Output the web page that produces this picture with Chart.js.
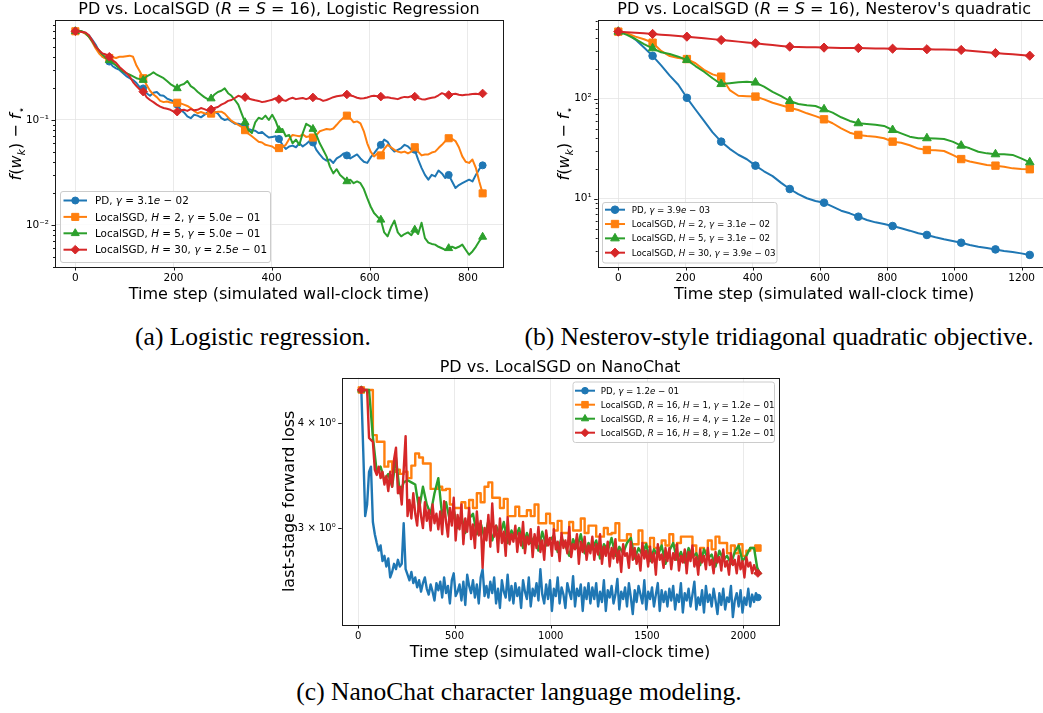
<!DOCTYPE html>
<html lang="en"><head><meta charset="utf-8"><title>PD vs. LocalSGD</title>
<script src="https://cdn.jsdelivr.net/npm/chart.js@4.4.1/dist/chart.umd.min.js"></script>
<style>
html,body{margin:0;padding:0;background:#fff;overflow:hidden;width:1043px;height:713px;position:relative}
canvas{position:absolute;display:block}
.cap{position:absolute;font-family:"Liberation Serif","Times New Roman",serif;font-size:25.5px;line-height:30px;color:#000;white-space:nowrap;transform:translateX(-50%)}
</style></head><body>
<canvas id="chartA" width="520" height="312" style="left:0px;top:0px;width:520px;height:312px"></canvas>
<canvas id="chartB" width="545" height="312" style="left:520px;top:0px;width:545px;height:312px"></canvas>
<canvas id="chartC" width="520" height="312" style="left:280px;top:355px;width:520px;height:312px"></canvas>
<div class="cap" style="left:253px;top:322px">(a) Logistic regression.</div>
<div class="cap" style="left:779px;top:322px">(b) Nesterov-style tridiagonal quadratic objective.</div>
<div class="cap" style="left:519px;top:677px">(c) NanoChat character language modeling.</div>
<script>
// ================= DATA =================
// ---- (a) Logistic regression: time grid 0..830, 121 samples
const aTimeEnd = 830;
const aPD  = [0.70,0.705,0.69,0.67,0.64,0.58,0.52,0.45,0.40,0.39,0.36,0.325,0.31,0.30,0.28,0.262,0.25,0.24,0.225,0.205,0.20,0.18,0.17,0.182,0.185,0.172,0.17,0.16,0.155,0.15,0.14,0.125,0.118,0.108,0.104,0.112,0.11,0.106,0.112,0.118,0.122,0.12,0.115,0.104,0.10,0.102,0.097,0.092,0.092,0.09,0.086,0.082,0.08,0.079,0.075,0.077,0.072,0.068,0.069,0.07,0.066,0.058,0.053,0.056,0.057,0.055,0.06,0.056,0.059,0.063,0.061,0.052,0.047,0.043,0.041,0.042,0.039,0.043,0.045,0.048,0.046,0.043,0.045,0.047,0.043,0.04,0.039,0.044,0.048,0.053,0.058,0.065,0.062,0.054,0.05,0.052,0.054,0.058,0.056,0.052,0.052,0.042,0.035,0.03,0.027,0.03,0.029,0.033,0.031,0.028,0.03,0.026,0.0225,0.024,0.025,0.026,0.027,0.026,0.03,0.034,0.037];
const aH2  = [0.70,0.70,0.69,0.66,0.62,0.55,0.48,0.43,0.40,0.385,0.39,0.395,0.39,0.40,0.40,0.405,0.41,0.40,0.33,0.29,0.25,0.215,0.19,0.175,0.165,0.152,0.148,0.15,0.147,0.145,0.146,0.144,0.14,0.136,0.13,0.122,0.116,0.119,0.116,0.113,0.115,0.118,0.12,0.12,0.115,0.106,0.098,0.094,0.09,0.086,0.08,0.074,0.07,0.066,0.062,0.061,0.058,0.057,0.056,0.053,0.054,0.055,0.058,0.066,0.072,0.071,0.07,0.073,0.069,0.07,0.068,0.072,0.078,0.08,0.082,0.081,0.083,0.09,0.098,0.105,0.11,0.104,0.095,0.097,0.093,0.078,0.06,0.05,0.045,0.048,0.046,0.053,0.058,0.055,0.052,0.05,0.049,0.05,0.048,0.05,0.055,0.05,0.046,0.047,0.047,0.049,0.05,0.054,0.058,0.063,0.067,0.066,0.063,0.055,0.045,0.04,0.039,0.042,0.035,0.026,0.020];
const aH5  = [0.70,0.71,0.70,0.67,0.62,0.56,0.50,0.46,0.42,0.39,0.37,0.35,0.33,0.31,0.29,0.28,0.27,0.26,0.25,0.245,0.24,0.26,0.27,0.285,0.27,0.26,0.25,0.235,0.22,0.21,0.20,0.215,0.22,0.235,0.21,0.2,0.186,0.175,0.165,0.158,0.16,0.175,0.185,0.19,0.20,0.18,0.17,0.155,0.14,0.115,0.095,0.08,0.075,0.095,0.105,0.102,0.11,0.1,0.112,0.098,0.08,0.082,0.07,0.072,0.06,0.065,0.058,0.075,0.092,0.088,0.082,0.072,0.06,0.052,0.045,0.036,0.031,0.034,0.03,0.028,0.026,0.027,0.025,0.026,0.025,0.022,0.018,0.015,0.013,0.012,0.0112,0.0085,0.0078,0.0095,0.011,0.0085,0.0078,0.0082,0.0085,0.008,0.009,0.0082,0.0105,0.0075,0.0068,0.0066,0.0065,0.0062,0.006,0.0058,0.006,0.0062,0.006,0.0062,0.0065,0.0058,0.0052,0.0056,0.0062,0.007,0.0077];
const aH30 = [0.70,0.70,0.69,0.68,0.64,0.57,0.50,0.46,0.43,0.42,0.40,0.37,0.35,0.32,0.30,0.28,0.26,0.23,0.21,0.195,0.186,0.165,0.155,0.148,0.14,0.134,0.13,0.128,0.125,0.12,0.12,0.124,0.125,0.122,0.127,0.124,0.125,0.13,0.127,0.123,0.126,0.13,0.133,0.14,0.145,0.152,0.155,0.162,0.17,0.166,0.165,0.16,0.157,0.154,0.152,0.148,0.15,0.153,0.156,0.161,0.158,0.155,0.152,0.159,0.163,0.158,0.16,0.162,0.158,0.162,0.164,0.16,0.158,0.152,0.155,0.16,0.165,0.168,0.17,0.172,0.175,0.171,0.168,0.163,0.16,0.161,0.164,0.168,0.17,0.168,0.167,0.163,0.165,0.162,0.16,0.158,0.163,0.166,0.165,0.168,0.167,0.162,0.158,0.157,0.16,0.163,0.165,0.172,0.18,0.175,0.173,0.176,0.178,0.174,0.172,0.174,0.175,0.177,0.178,0.176,0.179];
const aXTicks = [0,200,400,600,800];
const aYLabeled = [[0.01,'10⁻²'],[0.1,'10⁻¹']];
const aTitle = 'PD vs. LocalSGD (*R* = *S* = 16), Logistic Regression';
const aLegend = ['PD, *γ* = 3.1*e* − 02','LocalSGD, *H* = 2, *γ* = 5.0*e* − 01','LocalSGD, *H* = 5, *γ* = 5.0*e* − 01','LocalSGD, *H* = 30, *γ* = 2.5*e* − 01'];

// ---- (b) Nesterov quadratic: time grid 0..1224, 49 samples
const bTimeEnd = 1224;
const bPD  = [468,450,390,325,268,215,170,138,102,78,60,46,37.2,31.5,27.5,24.8,21.4,18.8,16.8,14.4,12.5,11.1,10.1,9.5,9.12,8.32,7.59,7.14,6.61,6.12,5.8,5.58,5.33,5.06,4.79,4.51,4.34,4.11,3.93,3.78,3.63,3.44,3.31,3.21,3.11,3.0,2.93,2.84,2.74];
const bH2  = [468,451,417,393,363,300,267,255,249,226,194,175,166,122,107,106,105,98.5,91,86,81.3,77,71.4,67,62.2,56.8,50.6,45.7,43.4,42.4,41.7,40.2,37.2,36.3,34.2,31.7,30.7,30.5,30,27.4,24.9,23.5,22.6,21.7,21.4,20.9,20.1,19.8,19.7];
const bH5  = [468,434,395,352,319,291,280,263,244,212,186,160,140,143,146,148,145,132,117,106,94.8,88.5,86,84.6,78.3,72.5,65.2,59.9,56.8,55.8,55,53.4,48.6,45,41.7,40.2,40.2,39.9,39.5,37.2,33.9,31.9,29.5,28.4,27.8,27.8,27.4,25.3,23.1];
const bH30 = [468,462,456,450,444,437,430,424,417,409,401,394,386,379,372,365,358,351,344,337,331,329,327,326,324,323,322,322,321,320,318,317,316,315,314,313,312,311,310,309,307,302,296,291,286,282,278,273,269];
const bXTicks = [0,200,400,600,800,1000,1200];
const bYLabeled = [[10,'10¹'],[100,'10²']];
const bTitle = "PD vs. LocalSGD (*R* = *S* = 16), Nesterov's quadratic";
const bLegend = ['PD, *γ* = 3.9*e* − 03','LocalSGD, *H* = 2, *γ* = 3.1*e* − 02','LocalSGD, *H* = 5, *γ* = 3.1*e* − 02','LocalSGD, *H* = 30, *γ* = 3.9*e* − 03'];

// ---- (c) NanoChat: all series start at t=16; PD and H=8 sampled every 10 steps, H=1 and H=4 every 20
const cTimeStart = 16;
const cStepFine = 10, cStepCoarse = 20;
const cPD = [4.38,3.70,3.10,3.20,3.50,3.55,3.05,2.95,2.88,2.82,2.86,2.74,2.78,2.70,2.76,2.62,2.66,2.72,2.68,2.75,2.70,2.72,3.04,2.68,2.64,2.60,2.66,2.58,2.62,2.55,2.60,2.52,2.58,2.62,2.54,2.50,2.57,2.52,2.46,2.58,2.53,
  2.59,2.48,2.62,2.51,2.56,2.44,2.60,2.65,2.49,2.52,2.57,2.46,2.59,2.43,2.64,2.56,2.51,2.60,2.48,2.57,2.44,2.62,2.68,2.49,2.56,2.48,2.59,2.51,2.62,2.44,2.54,2.41,2.60,2.52,2.48,2.64,2.46,2.56,
  2.44,2.58,2.49,2.55,2.41,2.60,2.52,2.47,2.62,2.42,2.54,2.49,2.58,2.46,2.68,2.50,2.44,2.57,2.47,2.60,2.39,2.54,2.49,2.62,2.44,2.55,2.50,2.41,2.58,2.52,2.47,2.63,2.42,2.54,2.49,2.57,2.39,2.55,2.47,2.58,
  2.44,2.55,2.47,2.58,2.42,2.52,2.45,2.60,2.39,2.53,2.48,2.56,2.44,2.50,2.61,2.40,2.52,2.47,2.55,2.42,2.58,2.48,2.37,2.53,2.45,2.56,2.50,2.44,2.60,2.40,2.52,2.47,2.55,2.42,2.50,2.58,2.39,2.53,2.45,2.52,
  2.42,2.54,2.46,2.56,2.40,2.50,2.45,2.58,2.38,2.51,2.46,2.54,2.42,2.50,2.59,2.40,2.48,2.43,2.53,2.38,2.56,2.45,2.50,2.42,2.54,2.46,2.37,2.51,2.43,2.54,2.40,2.48,2.45,2.56,2.35,2.46,2.51,2.42,2.53,2.38,2.48,2.43,2.54,2.42,2.50,2.45,2.51,2.48];
const cH1 = [4.38,4.38,4.38,4.38,3.87,3.80,3.80,3.55,3.60,3.50,3.52,3.48,3.50,3.44,3.56,3.68,3.64,3.58,3.58,3.34,3.34,3.36,3.33,3.34,3.20,3.17,3.17,3.22,3.17,3.24,3.17,3.30,3.22,3.36,3.40,3.26,3.26,3.17,3.25,3.10,3.10,3.18,3.10,3.10,3.15,3.10,3.20,3.04,3.04,3.12,3.04,2.98,3.06,2.96,2.96,3.05,2.98,2.98,3.08,2.96,3.02,3.02,2.93,2.93,3.00,2.95,2.96,3.04,2.90,2.90,2.95,2.87,2.87,2.98,2.88,2.85,2.92,2.84,2.84,2.90,2.86,2.95,2.86,2.88,2.93,2.93,2.93,2.86,2.78,2.84,2.82,2.90,2.83,2.93,2.88,2.88,2.80,2.86,2.80,2.87,2.78,2.82,2.84,2.84];
const cH4 = [4.38,4.38,4.38,3.85,3.50,3.55,3.42,3.48,3.36,3.64,3.30,3.40,3.42,3.40,3.38,3.16,3.36,3.20,3.12,3.30,3.44,3.10,3.22,3.06,3.15,3.00,3.10,2.96,3.08,3.12,2.95,3.04,2.92,3.06,2.90,3.02,2.94,3.05,2.88,2.98,2.92,3.00,2.84,2.96,2.88,2.93,2.82,2.97,2.86,2.90,2.94,2.81,2.92,2.86,2.78,2.91,2.84,2.95,2.80,2.88,2.83,2.90,2.76,2.87,2.82,2.92,2.78,2.85,2.80,2.88,2.92,2.76,2.84,2.79,2.87,2.74,2.83,2.78,2.86,2.72,2.82,2.88,2.75,2.81,2.73,2.84,2.77,2.80,2.71,2.83,2.76,2.79,2.70,2.82,2.75,2.78,2.72,2.81,2.86,2.74,2.78,2.84,2.84,2.66];
const cH8 = [4.38,4.38,4.38,4.38,3.84,3.82,3.80,3.52,3.47,3.55,3.44,3.50,3.38,3.46,3.32,3.50,3.36,3.62,3.74,3.30,3.36,3.20,3.52,3.86,3.10,3.24,3.08,3.30,3.12,3.02,3.26,3.10,3.00,3.22,3.06,3.15,2.98,3.20,3.04,3.12,2.99,
  3.14,2.95,3.23,3.05,2.93,3.17,3.02,3.26,2.90,3.11,2.99,3.20,2.87,3.08,2.97,3.17,2.91,3.03,2.84,3.14,2.94,3.06,2.69,3.00,2.90,3.11,2.85,3.21,2.93,3.02,2.81,3.08,2.88,2.97,2.78,3.09,2.87,2.95,
  2.89,3.02,2.81,2.96,2.86,3.05,2.80,2.93,2.87,2.99,2.77,2.95,2.84,3.01,2.81,2.90,2.75,2.98,2.86,2.92,2.78,2.99,2.83,2.89,2.74,2.96,2.84,2.90,2.80,3.01,2.77,2.87,2.83,2.95,2.72,2.89,2.81,2.93,2.75,2.86,
  2.80,2.93,2.75,2.87,2.79,2.95,2.72,2.85,2.78,2.89,2.70,2.84,2.76,2.91,2.73,2.82,2.66,2.87,2.78,2.80,2.69,2.89,2.75,2.84,2.72,2.79,2.67,2.88,2.76,2.82,2.70,2.85,2.73,2.80,2.64,2.87,2.75,2.79,2.69,2.84,
  2.74,2.84,2.68,2.80,2.75,2.87,2.67,2.78,2.73,2.83,2.65,2.81,2.74,2.86,2.70,2.77,2.64,2.83,2.73,2.78,2.68,2.84,2.71,2.75,2.65,2.81,2.73,2.77,2.67,2.83,2.70,2.74,2.64,2.80,2.71,2.75,2.65,2.78,2.68,2.74,2.62,2.77,2.70,2.73,2.65,2.71,2.67,2.65];
const cXTicks = [0,500,1000,1500,2000];
const cYLabeled = [[3,'3 × 10⁰'],[4,'4 × 10⁰']];
const cTitle = 'PD vs. LocalSGD on NanoChat';
const cLegend = ['PD, *γ* = 1.2*e* − 01','LocalSGD, *R* = 16, *H* = 1, *γ* = 1.2*e* − 01','LocalSGD, *R* = 16, *H* = 4, *γ* = 1.2*e* − 01','LocalSGD, *R* = 16, *H* = 8, *γ* = 1.2*e* − 01'];

const xLabelText = 'Time step (simulated wall-clock time)';
const yLabelObjective = '*f*(*w*_k_) − *f*^⋆^';
const yLabelLoss = 'last-stage forward loss';

// ================= RENDERING =================
const COLORS = ['#1f77b4','#ff7f0e','#2ca02c','#d62728'];
const STYLES = ['circle','rect','triangle','rectRot'];
const GRID = '#e4e4e4';
const FONT = '"DejaVu Sans"';

function parseRich(s){
  const out=[]; const re=/\*([^*]+)\*|_([^_]+)_|\^([^^]+)\^/g; let last=0,m;
  while((m=re.exec(s))){
    if(m.index>last) out.push([s.slice(last,m.index),'n']);
    if(m[1]!==undefined) out.push([m[1],'i']);
    else if(m[2]!==undefined) out.push([m[2],'s']);
    else out.push([m[3],'S']);
    last=re.lastIndex;
  }
  if(last<s.length) out.push([s.slice(last),'n']);
  return out;
}
function fontFor(f,size){
  const sub=(f==='s'||f==='S'); const it=(f==='i'||f==='s');
  return (it?'italic ':'')+(sub?size*0.7:size).toFixed(2)+'px '+FONT;
}
function drawRich(ctx,str,x,y,size,align,color){
  const segs=parseRich(str); let w=0;
  for(const [t,f] of segs){ctx.font=fontFor(f,size); w+=ctx.measureText(t).width;}
  let cx = align==='center'? x-w/2 : (align==='right'? x-w : x);
  ctx.textAlign='left'; ctx.textBaseline='alphabetic'; ctx.fillStyle=color||'#000';
  for(const [t,f] of segs){
    ctx.font=fontFor(f,size);
    const dy=(f==='s'||f==='S')? size*0.22 : 0;
    ctx.fillText(t,cx,y+dy); cx+=ctx.measureText(t).width;
  }
}

function logTickList(min,max){
  const out=[];
  for(let e=Math.floor(Math.log10(min)); e<=Math.ceil(Math.log10(max)); e++){
    for(let m=1;m<=9;m++){ const v=m*Math.pow(10,e); if(v>=min*0.999999 && v<=max*1.000001) out.push({value:v, mj:m===1}); }
  }
  return out;
}
function labelFor(list,v){
  for(const [lv,l] of list){ if(Math.abs(v-lv)/lv<1e-6) return l; }
  return '';
}

function makeDecor(spec){
  return {
    id:'decor',
    afterDraw(chart){
      const ctx=chart.ctx, a=chart.chartArea;
      const xs=chart.scales.x, ys=chart.scales.y;
      ctx.save();
      ctx.strokeStyle='#000'; ctx.lineWidth=0.9;
      ctx.beginPath();
      for(const t of xs.ticks){ const px=Math.round(xs.getPixelForValue(t.value))+0.5; ctx.moveTo(px,a.bottom); ctx.lineTo(px,a.bottom+3.5); }
      for(const t of ys.ticks){ const py=Math.round(ys.getPixelForValue(t.value))+0.5; const len=(t.mj||spec.labeledMinor&&labelFor(spec.yLabeled,t.value))?3.5:2; ctx.moveTo(a.left-len,py); ctx.lineTo(a.left,py); }
      ctx.stroke();
      ctx.strokeStyle='#1a1a1a'; ctx.lineWidth=1;
      ctx.strokeRect(Math.round(a.left)+0.5,Math.round(a.top)+0.5,Math.round(a.right-a.left),Math.round(a.bottom-a.top));
      ctx.restore();
      drawRich(ctx,spec.title,(a.left+a.right)/2,a.top-6,16,'center');
      drawRich(ctx,xLabelText,(a.left+a.right)/2,a.bottom+32,16,'center');
      ctx.save(); ctx.translate(spec.ylabelX,(a.top+a.bottom)/2); ctx.rotate(-Math.PI/2);
      drawRich(ctx,spec.ylabel,0,0,16,'center'); ctx.restore();
      const L=spec.legend;
      ctx.save();
      ctx.fillStyle='rgba(255,255,255,0.85)'; ctx.strokeStyle='#cccccc'; ctx.lineWidth=1;
      ctx.beginPath(); ctx.roundRect(L.x+0.5,L.y+0.5,L.w,L.h,2.5); ctx.fill(); ctx.stroke();
      spec.legendText.forEach((txt,k)=>{
        const ry=L.row0+k*L.step;
        ctx.strokeStyle=COLORS[k]; ctx.fillStyle=COLORS[k]; ctx.lineWidth=L.lw;
        ctx.beginPath(); ctx.moveTo(L.lx0,ry); ctx.lineTo(L.lx1,ry); ctx.stroke();
        ctx.lineWidth=1;
        Chart.helpers.drawPoint(ctx,{pointStyle:STYLES[k],radius:spec.radii[k],rotation:0,borderWidth:1},(L.lx0+L.lx1)/2,ry);
        drawRich(ctx,txt,L.tx,ry+L.fs*0.36,L.fs,'left','#000');
      });
      ctx.restore();
    }
  };
}

function makeChart(id,cfg){
  const canvas=document.getElementById(id);
  const W=canvas.width, H=canvas.height;
  const datasets=cfg.series.map((vals,k)=>({
    data: vals.map((v,i)=>({x:cfg.t[k](i),y:v})),
    borderColor:COLORS[k], backgroundColor:COLORS[k],
    pointBackgroundColor:COLORS[k], pointBorderColor:COLORS[k], pointBorderWidth:1,
    borderWidth:cfg.lw, pointStyle:STYLES[k],
    pointRadius:(c)=> cfg.markAt(c.dataIndex,vals.length)? cfg.radii[k] : 0,
    pointHoverRadius:0, order:4-k, tension:0, fill:false,
    borderJoinStyle:'round',
    stepped:(cfg.stepped && cfg.stepped[k])? 'after' : false
  }));
  const tickFont={family:'DejaVu Sans',size:cfg.tickFs};
  return new Chart(canvas,{
    type:'line',
    data:{datasets},
    plugins:[makeDecor(cfg.decor)],
    options:{
      responsive:false, animation:false, devicePixelRatio:1,
      events:[],
      layout:{padding:{left:0,top:cfg.area.t,right:W-cfg.area.r,bottom:0}},
      plugins:{legend:{display:false},tooltip:{enabled:false},title:{display:false}},
      scales:{
        x:{type:'linear',min:cfg.xmin,max:cfg.xmax,bounds:'data',offset:false,
          afterBuildTicks:(s)=>{ s.ticks=cfg.xticks.map(v=>({value:v})); },
          afterFit:(s)=>{ s.height=H-cfg.area.b; },
          grid:{color:GRID,lineWidth:0.8,drawTicks:false},
          border:{display:false},
          ticks:{autoSkip:false,maxRotation:0,minRotation:0,padding:5,font:tickFont,color:'#000',callback:(v)=>String(v)}
        },
        y:{type:'logarithmic',min:cfg.ymin,max:cfg.ymax,bounds:'data',
          afterBuildTicks:(s)=>{ s.ticks=logTickList(cfg.ymin,cfg.ymax); },
          afterFit:(s)=>{ s.width=cfg.area.l; },
          grid:{color:(c)=> (c.tick && c.tick.mj)? GRID : 'rgba(0,0,0,0)',lineWidth:0.8,drawTicks:false},
          border:{display:false},
          ticks:{autoSkip:false,padding:6,font:tickFont,color:'#000',callback:(v)=>labelFor(cfg.yLabeled,v)}
        }
      }
    }
  });
}

const tA = (i)=> i*aTimeEnd/(aPD.length-1);
const tB = (i)=> i*bTimeEnd/(bPD.length-1);
const tCf = (i)=> cTimeStart + i*cStepFine;
const tCc = (i)=> cTimeStart + i*cStepCoarse;

makeChart('chartA',{
  series:[aPD,aH2,aH5,aH30], t:[tA,tA,tA,tA],
  markAt:(i,n)=> i%10===0 || i===n-1,
  radii:[3.5,5,4.6,4.3], lw:2, tickFs:10.5,
  xmin:-41.5, xmax:871.5, xticks:aXTicks, ymin:0.00398, ymax:0.896, yLabeled:aYLabeled,
  area:{l:55,r:503,t:20,b:267},
  decor:{title:aTitle, ylabel:yLabelObjective, ylabelX:21, legendText:aLegend, radii:[3.5,5,4.6,4.3], yLabeled:aYLabeled,
    legend:{x:60,y:191,w:210,h:71,row0:200.5,step:16.4,lx0:63.5,lx1:87,tx:95,fs:10.4,lw:2}}
});
makeChart('chartB',{
  series:[bPD,bH2,bH5,bH30], t:[tB,tB,tB,tB],
  markAt:(i,n)=> i%4===0 || i===n-1,
  radii:[3.8,5.2,5,4.6], lw:2, tickFs:10.5,
  xmin:-61.3, xmax:1286, xticks:bXTicks, ymin:2.075, ymax:612, yLabeled:bYLabeled,
  area:{l:77.7,r:530.6,t:20,b:267},
  decor:{title:bTitle, ylabel:yLabelObjective, ylabelX:49, legendText:bLegend, radii:[3.8,5.2,5,4.6], yLabeled:bYLabeled,
    legend:{x:82,y:202,w:174.5,h:60.5,row0:209.7,step:14.33,lx0:85,lx1:105,tx:111.7,fs:8.7,lw:2}}
});
makeChart('chartC',{
  series:[cPD,cH1,cH4,cH8], t:[tCf,tCc,tCc,tCf],
  markAt:(i,n)=> i===0 || i===n-1, stepped:[false,true,false,false],
  radii:[3.3,4.6,4.2,4], lw:2.4, tickFs:10,
  xmin:-86, xmax:2182, xticks:cXTicks, ymin:2.30, ymax:4.53, yLabeled:cYLabeled,
  area:{l:61.7,r:498.3,t:22.7,b:270},
  decor:{title:cTitle, ylabel:yLabelLoss, ylabelX:14, legendText:cLegend, radii:[3.3,4.6,4.2,4], yLabeled:cYLabeled, labeledMinor:true,
    legend:{x:292.5,y:26.5,w:201.5,h:60.5,row0:35.7,step:14.0,lx0:295,lx1:315,tx:320.7,fs:8.7,lw:2}}
});
</script>
</body></html>
